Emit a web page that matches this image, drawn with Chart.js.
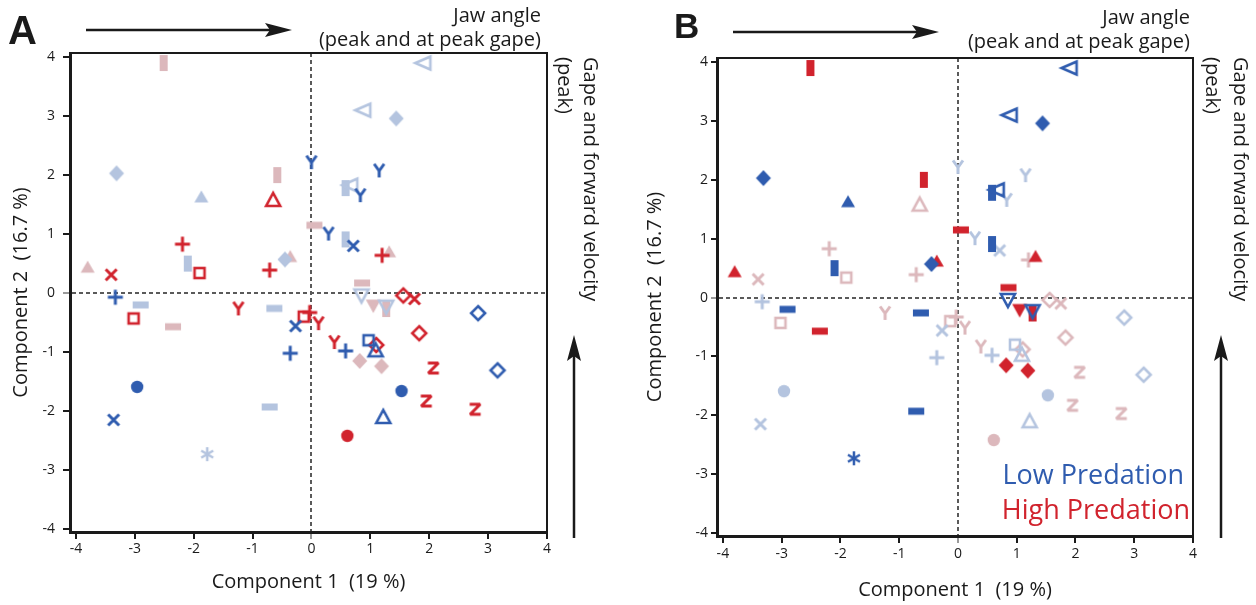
<!DOCTYPE html>
<html>
<head>
<meta charset="utf-8">
<script src="https://cdn.jsdelivr.net/npm/chart.js@4"></script>
<style>
  body { margin: 0; background: #fff; width: 1256px; height: 605px; position: relative; overflow: hidden;
         font-family: 'Open Sans', sans-serif; color: #1a1a1a; }
  canvas { position: absolute; top: 0; }
  #chartA { left: 0; }
  #chartB { left: 640px; }
  .letter { position: absolute; font-family: 'Liberation Sans', Arial, sans-serif; font-weight: bold; }
  .top { position: absolute; text-align: right; font-size: 20px; line-height: 24px; white-space: nowrap; }
  .side { position: absolute; writing-mode: vertical-rl; font-size: 20px; white-space: nowrap; }
  .leg { position: absolute; text-align: right; font-size: 27px; line-height: 30px; white-space: nowrap; }
  svg { position: absolute; left: 0; top: 0; }
</style>
</head>
<body>
<canvas id="chartA" width="640" height="605"></canvas>
<canvas id="chartB" width="616" height="605"></canvas>

<svg width="1256" height="605">
  <g fill="#1a1a1a" stroke="#1a1a1a">
    <line x1="86" y1="30" x2="272" y2="30" stroke-width="2.5"/>
    <polygon points="265,23 292,30 265,37 270,30" stroke="none"/>
    <line x1="733" y1="32" x2="918" y2="32" stroke-width="2.5"/>
    <polygon points="912,25 939,32 912,39 917,32" stroke="none"/>
    <line x1="574" y1="538" x2="574" y2="355" stroke-width="2.5"/>
    <polygon points="567,361 574,335 581,361 574,356" stroke="none"/>
    <line x1="1221" y1="538" x2="1221" y2="355" stroke-width="2.5"/>
    <polygon points="1214,361 1221,335 1228,361 1221,356" stroke="none"/>
  </g>
</svg>

<div class="letter" style="left:8px;top:10px;font-size:40px;line-height:40px">A</div>
<div class="letter" style="left:674px;top:8px;font-size:35px;line-height:35px">B</div>
<div class="top" style="right:715px;top:3px">Jaw angle<br>(peak and at peak gape)</div>
<div class="top" style="right:66px;top:5px">Jaw angle<br>(peak and at peak gape)</div>
<div class="side" style="left:552px;top:57px;line-height:26px">Gape and forward velocity<br>(peak)</div>
<div class="side" style="left:1199px;top:57px;line-height:28px">Gape and forward velocity<br>(peak)</div>
<div class="leg" style="right:72px;top:459px;color:#2f5caf">Low Predation</div>
<div class="leg" style="right:66px;top:494px;color:#d1232d">High Predation</div>

<script>
// axes
const tickVals = [-4, -3, -2, -1, 0, 1, 2, 3, 4];
const xMin = -4.1, xMax = 4.0, yMin = -4.05, yMax = 4.07;

// low predation (blue)
const lowDiamond = [[-3.31, 2.03], [1.44, 2.96], [-0.45, 0.57]];
const lowTriangle = [[-1.87, 1.63]];
const lowY = [[0.0, 2.22], [1.15, 2.08], [0.83, 1.66], [0.29, 1.01]];
const lowTriLeft = [[1.90, 3.90], [0.88, 3.10], [0.66, 1.83]];
const lowVBar = [[0.58, 1.78], [0.58, 0.91], [-2.10, 0.50]];
const lowHBar = [[-2.90, -0.20], [-0.63, -0.26], [-0.71, -1.93]];
const lowCross = [[0.71, 0.80], [-0.27, -0.56], [-3.36, -2.15]];
const lowPlus = [[-3.33, -0.07], [-0.36, -1.02], [0.58, -0.98]];
const lowCircle = [[-2.96, -1.59], [1.53, -1.66]];
const lowStar = [[-1.77, -2.73]];
const lowTriDown = [[0.85, -0.04], [1.27, -0.23]];
const lowDiamondOpen = [[2.83, -0.34], [3.16, -1.31]];
const lowSquareOpen = [[0.97, -0.80]];
const lowTriOpen = [[1.09, -0.97], [1.22, -2.10]];

// high predation (red)
const highVBar = [[-2.51, 3.90], [-0.58, 2.00], [1.27, -0.27]];
const highTriOpen = [[-0.65, 1.58]];
const highHBar = [[0.05, 1.15], [0.86, 0.17], [-2.35, -0.57]];
const highTriangle = [[-3.80, 0.44], [-0.36, 0.62], [1.32, 0.70]];
const highCross = [[-3.40, 0.31], [1.75, -0.10]];
const highPlus = [[-2.19, 0.83], [-0.71, 0.39], [1.20, 0.64], [-0.03, -0.33]];
const highSquareOpen = [[-1.90, 0.34], [-3.02, -0.43], [-0.13, -0.40]];
const highDiamondOpen = [[1.56, -0.04], [1.83, -0.68], [1.10, -0.88]];
const highY = [[-1.24, -0.26], [0.12, -0.51], [0.39, -0.83]];
const highTriDown = [[1.05, -0.22]];
const highDiamond = [[0.82, -1.15], [1.19, -1.24]];
const highZ = [[2.07, -1.27], [1.95, -1.83], [2.78, -1.97]];
const highCircle = [[0.61, -2.42]];

const colors = {
  low: { dark: '#2f5caf', light: '#b4c4df' },
  high: { dark: '#d1232d', light: '#dcb8bc' }
};

// which panel shows the series in the strong colour
const series = [
  [lowDiamond, 'low', 'diamondF', 'B'], [lowTriangle, 'low', 'triF', 'B'],
  [lowY, 'low', 'Y', 'A'], [lowTriLeft, 'low', 'triLeftO', 'B'],
  [lowVBar, 'low', 'vbar', 'B'], [lowHBar, 'low', 'hbar', 'B'],
  [lowCross, 'low', 'cross', 'A'], [lowPlus, 'low', 'plus', 'A'],
  [lowCircle, 'low', 'circle', 'A'], [lowStar, 'low', 'star', 'B'],
  [lowTriDown, 'low', 'triDownO', 'B'], [lowDiamondOpen, 'low', 'diamondO', 'A'],
  [lowSquareOpen, 'low', 'squareO', 'A'], [lowTriOpen, 'low', 'triO', 'A'],
  [highVBar, 'high', 'vbar', 'B'], [highTriOpen, 'high', 'triO', 'A'],
  [highHBar, 'high', 'hbar', 'B'], [highTriangle, 'high', 'triF', 'B'],
  [highCross, 'high', 'cross', 'A'], [highPlus, 'high', 'plus', 'A'],
  [highSquareOpen, 'high', 'squareO', 'A'], [highDiamondOpen, 'high', 'diamondO', 'A'],
  [highY, 'high', 'Y', 'A'], [highTriDown, 'high', 'triDownF', 'B'],
  [highDiamond, 'high', 'diamondF', 'B'], [highZ, 'high', 'Z', 'A'],
  [highCircle, 'high', 'circle', 'A']
];

function marker(shape, color) {
  const s = 24;
  const c = document.createElement('canvas');
  c.width = c.height = s;
  const g = c.getContext('2d');
  g.translate(s / 2, s / 2);
  g.fillStyle = g.strokeStyle = color;
  g.lineWidth = 2.6;
  g.miterLimit = 3;
  const poly = (pts, fill) => {
    g.beginPath();
    pts.forEach(([x, y], i) => i ? g.lineTo(x, y) : g.moveTo(x, y));
    g.closePath();
    fill ? g.fill() : g.stroke();
  };
  const lines = segs => {
    g.beginPath();
    segs.forEach(([a, b, c2, d]) => { g.moveTo(a, b); g.lineTo(c2, d); });
    g.stroke();
  };
  switch (shape) {
    case 'hbar': g.fillRect(-8, -3.5, 16, 7); break;
    case 'vbar': g.fillRect(-4, -8, 8, 16); break;
    case 'diamondF': poly([[0, -8], [7.5, 0], [0, 8], [-7.5, 0]], true); break;
    case 'diamondO': poly([[0, -7], [7, 0], [0, 7], [-7, 0]]); break;
    case 'triF': poly([[0, -6.5], [7, 5.5], [-7, 5.5]], true); break;
    case 'triO': poly([[0, -7], [7, 6], [-7, 6]]); break;
    case 'triLeftO': poly([[-8, 0], [7, -6.5], [7, 6.5]]); break;
    case 'triDownO': poly([[-7, -6], [7, -6], [0, 7]]); break;
    case 'triDownF': poly([[-7.5, -6.5], [7.5, -6.5], [0, 7]], true); break;
    case 'squareO': g.strokeRect(-5, -5, 10, 10); break;
    case 'circle': g.beginPath(); g.arc(0, 0, 6.2, 0, Math.PI * 2); g.fill(); break;
    case 'plus': g.lineWidth = 3; lines([[-7.5, 0, 7.5, 0], [0, -7.5, 0, 7.5]]); break;
    case 'cross': g.lineWidth = 3; lines([[-5.5, -5.5, 5.5, 5.5], [-5.5, 5.5, 5.5, -5.5]]); break;
    case 'Y': g.lineWidth = 3; lines([[-5, -6.5, 0, 0.5], [5, -6.5, 0, 0.5], [0, 0, 0, 7]]); break;
    case 'Z':
      g.lineWidth = 3;
      g.lineJoin = 'bevel';
      g.beginPath(); g.moveTo(-5.5, -5); g.lineTo(5, -5); g.lineTo(-5, 5); g.lineTo(5.5, 5); g.stroke();
      break;
    case 'star': g.lineWidth = 2.5; lines([[0, -7, 0, 7], [-6, -3.5, 6, 3.5], [-6, 3.5, 6, -3.5]]); break;
  }
  return c;
}

function datasetsFor(panel) {
  return series.map(([pts, group, shape, strongIn]) => {
    const strong = strongIn === panel;
    return {
      data: pts.map(([x, y]) => ({ x, y })),
      pointStyle: marker(shape, strong ? colors[group].dark : colors[group].light),
      pointRadius: 5,
      order: strong ? 0 : 1,
      clip: false
    };
  });
}

Chart.defaults.font.family = "'Open Sans', sans-serif";
Chart.defaults.color = '#1a1a1a';

const tickCol = c => (c.tick && c.tick.value === 0) ? '#9a9a9a' : '#1a1a1a';
const zeroCol = c => (c.tick && c.tick.value === 0) ? '#5a5a5a' : 'rgba(0,0,0,0)';
const setTicks = s => { s.ticks = tickVals.map(v => ({ value: v })); };

function build(id, panel, L) {
  return new Chart(document.getElementById(id), {
    type: 'scatter',
    data: { datasets: datasetsFor(panel) },
    options: {
      responsive: false,
      animation: false,
      events: [],
      layout: { padding: L.pad },
      plugins: { legend: { display: false }, tooltip: { enabled: false } },
      scales: {
        x: {
          type: 'linear', position: 'bottom', min: xMin, max: xMax,
          afterBuildTicks: setTicks,
          afterFit: s => { s.height = L.xH; },
          grid: { color: zeroCol, lineWidth: 2, drawTicks: true, tickLength: L.xTick, tickWidth: 2, tickColor: tickCol },
          border: { display: true, color: '#1a1a1a', width: 3, dash: [4, 3] },
          ticks: { font: { size: 14 }, padding: L.xTickPad, maxRotation: 0, autoSkip: false },
          title: { display: true, text: 'Component 1  (19 %)', font: { size: 20 }, padding: { top: 0, bottom: 0 } }
        },
        y: {
          type: 'linear', position: 'left', min: yMin, max: yMax,
          afterBuildTicks: setTicks,
          afterFit: s => { s.width = L.yW; },
          grid: { color: zeroCol, lineWidth: 2, drawTicks: true, tickLength: L.yTick, tickWidth: 2, tickColor: tickCol },
          border: { display: true, color: '#1a1a1a', width: 3, dash: [4, 3] },
          ticks: { font: { size: 14 }, padding: L.yTickPad, autoSkip: false },
          title: { display: true, text: 'Component 2  (16.7 %)', font: { size: 20 }, padding: { top: L.yTitlePad, bottom: 0 } }
        },
        x2: {
          type: 'linear', axis: 'x', position: 'top', min: xMin, max: xMax,
          afterFit: s => { s.height = 12; },
          ticks: { display: false },
          grid: { display: false, drawTicks: false },
          border: { display: true, color: '#1a1a1a', width: 2 }
        },
        y2: {
          type: 'linear', axis: 'y', position: 'right', min: yMin, max: yMax,
          afterFit: s => { s.width = 12; },
          ticks: { display: false },
          grid: { display: false, drawTicks: false },
          border: { display: true, color: '#1a1a1a', width: 2 }
        }
      }
    }
  });
}

build('chartA', 'A', {
  pad: { left: 0, top: 41, right: 81, bottom: 11 },
  yW: 70, xH: 62, yTick: 7, yTickPad: 8, xTick: 7, xTickPad: 2, yTitlePad: 9
});
build('chartB', 'B', {
  pad: { left: 0, top: 46, right: 51, bottom: 3 },
  yW: 77, xH: 66, yTick: 6, yTickPad: 3, xTick: 7, xTickPad: 3, yTitlePad: 3
});
</script>
</body>
</html>
